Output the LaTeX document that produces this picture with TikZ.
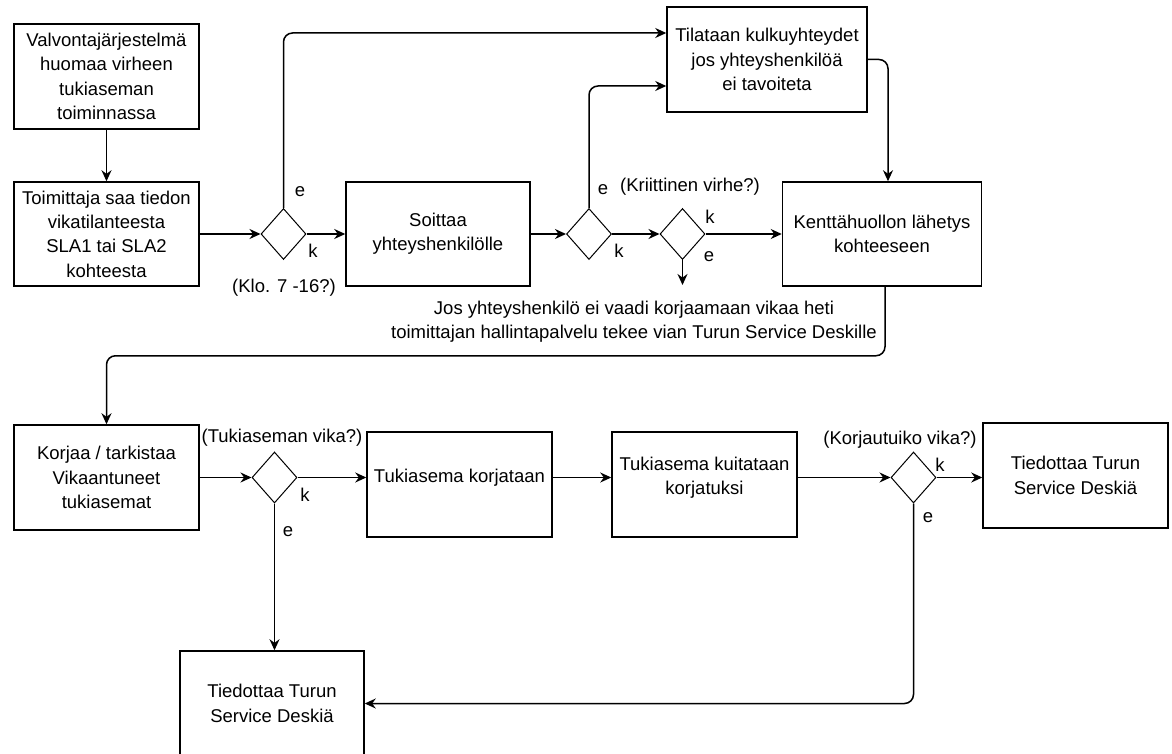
\documentclass[tikz,border=0pt]{standalone}
\usepackage{fontspec}
\setmainfont{Liberation Sans}
\usetikzlibrary{shapes.geometric,arrows.meta}

\begin{document}
\begin{tikzpicture}[
    x=1pt, y=-1pt,
    every node/.style={font=\fontsize{18.5}{24.3}\selectfont},
    box/.style={rectangle, draw, line width=1.5pt, align=center, inner sep=0pt},
    decision/.style={diamond, draw, line width=1pt, inner sep=0pt, minimum width=45pt, minimum height=51pt},
    flow/.style={line width=1.5pt, rounded corners=9pt, -{Stealth[length=11pt,width=10pt]}},
    answer/.style={inner sep=0pt}
]

% Page
\fill[white] (0,0) rectangle (1172,754);
\useasboundingbox (0,0) rectangle (1172,754);

% Top row
\node[box, minimum width=185pt, minimum height=105pt] (valvonta) at (106.5,76.5) {Valvontajärjestelmä\\huomaa virheen\\tukiaseman\\toiminnassa};
\node[box, minimum width=185pt, minimum height=104pt] (toimittaja) at (106.5,234) {Toimittaja saa tiedon\\vikatilanteesta\\SLA1 tai SLA2\\kohteesta};
\node[box, minimum width=184pt, minimum height=104pt] (soittaa) at (438,234) {Soittaa\\yhteyshenkilölle};
\node[box, minimum width=200pt, minimum height=105pt] (tilataan) at (767,59.5) {Tilataan kulkuyhteydet\\jos yhteyshenkilöä\\ei tavoiteta};
\node[box, minimum width=199pt, minimum height=104pt] (kentta) at (882,234) {Kenttähuollon lähetys\\kohteeseen};

% Decisions of the top row
\node[decision] (d1) at (283.5,234) {};
\node[decision] (d2) at (589,234) {};
\node[decision] (d3) at (682.5,234) {};
\coordinate (d3end) at (682.5,285);

\node[answer] (d1e) at (300,192) {e};
\node[answer] (d1k) at (313,251) {k};
\node (klo) at (284,288) {(Klo. 7 -16?)};
\node[answer] (d2e) at (603,190) {e};
\node[answer] (d2k) at (619,251) {k};
\node (kriit) at (690,187) {(Kriittinen virhe?)};
\node[answer] (d3k) at (710,217) {k};
\node[answer] (d3e) at (709,257) {e};

% Note
\node[align=center, inner sep=0pt] (note) at (634,321.5) {Jos yhteyshenkilö ei vaadi korjaamaan vikaa heti\\toimittajan hallintapalvelu tekee vian Turun Service Deskille};

% Second row
\node[box, minimum width=185pt, minimum height=105pt] (korjaa) at (106.5,477.5) {Korjaa / tarkistaa\\Vikaantuneet\\tukiasemat};
\node[box, minimum width=185pt, minimum height=105pt, text depth=18pt] (korjataan) at (459.5,484.5) {Tukiasema korjataan};
\node[box, minimum width=185pt, minimum height=105pt, text depth=18pt] (kuitataan) at (704.5,484.5) {Tukiasema kuitataan\\korjatuksi};
\node[box, minimum width=185pt, minimum height=105pt] (tiedR) at (1075.5,475.5) {Tiedottaa Turun\\Service Deskiä};
\node[box, minimum width=184pt, minimum height=105pt] (tiedL) at (272,703.5) {Tiedottaa Turun\\Service Deskiä};

% Decisions of the second row
\node[decision] (d4) at (274.5,477.5) {};
\node[decision] (d5) at (913.5,477.5) {};

\node (tuki) at (282,438) {(Tukiaseman vika?)};
\node[answer] (d4k) at (305,495) {k};
\node[answer] (d4e) at (288,532) {e};
\node (korjautuiko) at (900,440) {(Korjautuiko vika?)};
\node[answer] (d5k) at (940,465) {k};
\node[answer] (d5e) at (928,518) {e};

% Arrows
\draw[flow] (valvonta) -- (toimittaja);
\draw[flow] (toimittaja) -- (d1);
\draw[flow] (d1) -- (soittaa);
\draw[flow] (d1.north) |- ([yshift=26.5pt]tilataan.west);
\draw[flow] (soittaa) -- (d2);
\draw[flow] (d2.north) |- ([yshift=-26.5pt]tilataan.west);
\draw[flow] (d2) -- (d3);
\draw[flow] (d3) -- (kentta);
\draw[flow] (d3.south) -- (d3end);
\draw[flow] (tilataan.east) -| ([xshift=6pt]kentta.north);
\draw[flow] ([xshift=3pt]kentta.south) -- ++(0,69) -| (korjaa.north);

\draw[flow] (korjaa) -- (d4);
\draw[flow] (d4.east) -- (d4.east -| korjataan.west);
\draw[flow] (d4.east -| korjataan.east) -- (d4.east -| kuitataan.west);
\draw[flow] (d4.east -| kuitataan.east) -- (d5.west);
\draw[flow] (d5.east) -- (d5.east -| tiedR.west);
\draw[flow] (d4.south) -- (d4.south |- tiedL.north);
\draw[flow] (d5.south) |- (tiedL.east);

\end{tikzpicture}
\end{document}
